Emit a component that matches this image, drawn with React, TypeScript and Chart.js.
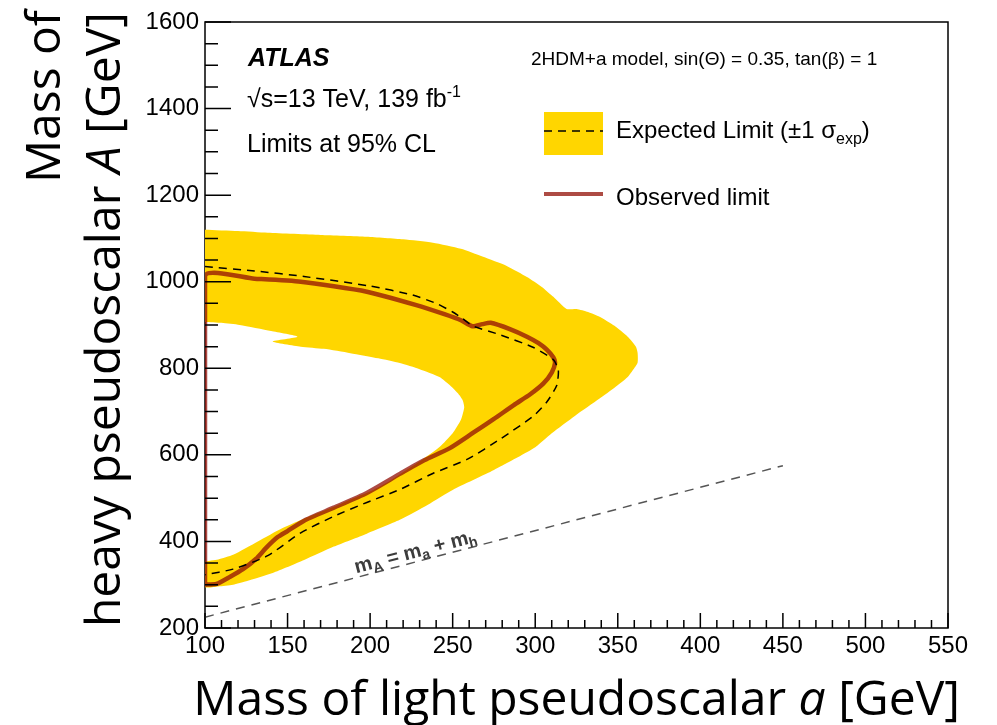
import React, { useEffect, useRef } from "react";
import { Chart, registerables } from "chart.js";

Chart.register(...registerables);

// Axis ranges (GeV) and labelled ticks
const maRange = [100, 550];
const mARange = [200, 1600];
const maTickLabels = [100, 150, 200, 250, 300, 350, 400, 450, 500, 550];
const mATickLabels = [200, 400, 600, 800, 1000, 1200, 1400, 1600];

// ±1σ expected band, outer edge: from the top-left corner clockwise to the bottom-left corner
const bandOuterMa = [100, 120, 138, 170, 198, 220, 238, 255, 268, 283, 295, 304, 311, 319, 325, 332, 339, 348, 356, 361, 362, 362, 359, 356, 348, 339, 324, 310, 299, 275, 250, 235, 218, 198, 178, 160, 141, 125, 117, 108, 100];
const bandOuterMA = [1120, 1117, 1113, 1108, 1104, 1098, 1090, 1076, 1058, 1036, 1011, 988, 965, 937, 937, 930, 919, 898, 873, 850, 836, 813, 795, 780, 755, 730, 690, 650, 615, 565, 519, 485, 450, 418, 388, 357, 327, 308, 300, 296, 295];
// inner edge of the band: from the bottom-left corner round the hole back to the left axis
const bandInnerMa = [100, 108, 117, 132, 147, 162, 178, 190, 202, 212, 222, 232, 242, 250, 255, 257, 256, 253, 248, 242, 230, 218, 205, 188, 172, 158, 141, 156, 140, 121, 110, 100];
const bandInnerMA = [351, 358, 369, 400, 431, 456, 480, 500, 519, 540, 565, 590, 618, 650, 681, 710, 727, 743, 762, 780, 798, 812, 823, 835, 845, 850, 862, 873, 886, 900, 905, 907];

// Expected limit contour
const expectedMa = [100, 130, 160, 200, 225, 240, 250, 256, 262, 279, 299, 311, 314, 313, 307, 299, 279, 259, 238, 218, 198, 178, 158, 138, 117, 100];
const expectedMA = [1035, 1025, 1012, 990, 970, 950, 930, 915, 898, 877, 848, 820, 796, 760, 722, 690, 637, 590, 557, 520, 490, 458, 420, 367, 336, 323];

// Observed limit contour (closed along the m_a = 100 GeV edge)
const observedMa = [100, 100, 130, 158, 198, 228, 245, 255, 262, 268, 273, 285, 295, 302, 307, 311, 312, 310, 305, 297, 287, 275, 262, 248, 233, 218, 198, 178, 160, 150, 144, 137, 131, 123, 115, 107, 100];
const observedMA = [300, 1013, 1007, 1000, 977, 946, 925, 911, 897, 902, 905, 890, 873, 858, 843, 825, 812, 790, 765, 740, 715, 683, 650, 615, 588, 556, 512, 478, 448, 424, 410, 385, 360, 336, 318, 302, 300];

// Kinematic threshold m_A = m_a + m_h
const kinematicMa = [100, 450];
const kinematicMA = [225, 575];

const FONT = '"Liberation Sans", Arial, Helvetica, sans-serif';
const TITLE_FONT = '"Open Sans", "Noto Sans", sans-serif';
const BAND_COLOR = "rgb(255,214,0)";
const OBS_COLOR = "rgba(145,15,5,0.75)";

const pts = (xs: number[], ys: number[]) => xs.map((x, i) => ({ x, y: ys[i] }));

type Part = { text: string; font: string; dy?: number };

function drawParts(ctx: CanvasRenderingContext2D, parts: Part[], x: number, y: number, align: "left" | "right" | "center") {
  let total = 0;
  for (const p of parts) {
    ctx.font = p.font;
    total += ctx.measureText(p.text).width;
  }
  let cx = align === "right" ? x - total : align === "center" ? x - total / 2 : x;
  ctx.textAlign = "left";
  for (const p of parts) {
    ctx.font = p.font;
    ctx.fillText(p.text, cx, y + (p.dy || 0));
    cx += ctx.measureText(p.text).width;
  }
}

const framePlugin = {
  id: "frame",
  beforeDatasetsDraw(chart: any) {
    const { ctx, chartArea: a } = chart;
    ctx.save();
    ctx.strokeStyle = "#000";
    ctx.lineWidth = 1.5;
    ctx.strokeRect(a.left, a.top, a.right - a.left, a.bottom - a.top);
    ctx.restore();
  },
  afterDatasetsDraw(chart: any) {
    const { ctx, chartArea: a } = chart;
    const xs = chart.scales.x;
    const ys = chart.scales.y;
    ctx.save();
    // inward tick marks
    ctx.strokeStyle = "#000";
    ctx.lineWidth = 1.5;
    ctx.beginPath();
    for (let v = maRange[0]; v <= maRange[1]; v += 10) {
      const px = xs.getPixelForValue(v);
      const len = v % 50 === 0 ? 15 : 8;
      ctx.moveTo(px, a.bottom);
      ctx.lineTo(px, a.bottom - len);
    }
    for (let v = mARange[0]; v <= mARange[1]; v += 50) {
      const py = ys.getPixelForValue(v);
      const len = v % 200 === 0 ? 26 : 13;
      ctx.moveTo(a.left, py);
      ctx.lineTo(a.left + len, py);
    }
    ctx.stroke();

    // label along the kinematic threshold line
    const x0 = xs.getPixelForValue(kinematicMa[0]);
    const y0 = ys.getPixelForValue(kinematicMA[0]);
    const x1 = xs.getPixelForValue(kinematicMa[1]);
    const y1 = ys.getPixelForValue(kinematicMA[1]);
    const ang = Math.atan2(y1 - y0, x1 - x0);
    const lx = xs.getPixelForValue(229);
    const ly = ys.getPixelForValue(354);
    ctx.translate(lx, ly);
    ctx.rotate(ang);
    ctx.fillStyle = "#3c3c3c";
    ctx.textBaseline = "alphabetic";
    const big = `bold 20px ${FONT}`;
    const small = `bold 14px ${FONT}`;
    drawParts(
      ctx,
      [
        { text: "m", font: big },
        { text: "A", font: small, dy: 4 },
        { text: " = m", font: big },
        { text: "a", font: small, dy: 4 },
        { text: " + m", font: big },
        { text: "h", font: small, dy: 4 },
      ],
      0,
      -4,
      "center"
    );
    ctx.restore();
  },
  afterDraw(chart: any) {
    const { ctx } = chart;
    ctx.save();
    ctx.fillStyle = "#000";
    ctx.textBaseline = "alphabetic";

    // experiment labels
    drawParts(ctx, [{ text: "ATLAS", font: `italic bold 25px ${FONT}` }], 248, 66, "left");
    drawParts(
      ctx,
      [
        { text: "\u221As=13 TeV, 139 fb", font: `25px ${FONT}` },
        { text: "-1", font: `16px ${FONT}`, dy: -10 },
      ],
      247,
      107,
      "left"
    );
    drawParts(ctx, [{ text: "Limits at 95% CL", font: `25px ${FONT}` }], 247, 152, "left");
    drawParts(ctx, [{ text: "2HDM+a model, sin(\u0398) = 0.35, tan(\u03B2) = 1", font: `19px ${FONT}` }], 531, 65, "left");

    // legend
    ctx.fillStyle = BAND_COLOR;
    ctx.fillRect(544, 112, 59, 43);
    ctx.strokeStyle = "#000";
    ctx.lineWidth = 1.5;
    ctx.setLineDash([8, 6]);
    ctx.beginPath();
    ctx.moveTo(544, 131);
    ctx.lineTo(603, 131);
    ctx.stroke();
    ctx.setLineDash([]);
    ctx.strokeStyle = OBS_COLOR;
    ctx.lineWidth = 4;
    ctx.beginPath();
    ctx.moveTo(544, 194);
    ctx.lineTo(603, 194);
    ctx.stroke();
    ctx.fillStyle = "#000";
    drawParts(
      ctx,
      [
        { text: "Expected Limit (\u00B11 \u03C3", font: `24px ${FONT}` },
        { text: "exp", font: `16px ${FONT}`, dy: 6 },
        { text: ")", font: `24px ${FONT}` },
      ],
      616,
      138,
      "left"
    );
    drawParts(ctx, [{ text: "Observed limit", font: `24px ${FONT}` }], 616, 205, "left");

    // axis titles
    const tf = `48px ${TITLE_FONT}`;
    const ti = `italic 48px ${TITLE_FONT}`;
    drawParts(
      ctx,
      [
        { text: "Mass of light pseudoscalar ", font: tf },
        { text: "a", font: ti },
        { text: " [GeV]", font: tf },
      ],
      960,
      715,
      "right"
    );
    ctx.save();
    ctx.translate(60, 10);
    ctx.rotate(-Math.PI / 2);
    drawParts(ctx, [{ text: "Mass of", font: tf }], 0, 0, "right");
    ctx.restore();
    ctx.save();
    ctx.translate(120, 12);
    ctx.rotate(-Math.PI / 2);
    drawParts(
      ctx,
      [
        { text: "heavy pseudoscalar ", font: tf },
        { text: "A", font: ti },
        { text: " [GeV]", font: tf },
      ],
      0,
      0,
      "right"
    );
    ctx.restore();
    ctx.restore();
  },
};

export default function App() {
  const canvasRef = useRef<HTMLCanvasElement | null>(null);

  useEffect(() => {
    const canvas = canvasRef.current;
    if (!canvas) return;
    const chart = new Chart(canvas, {
      type: "line",
      data: {
        datasets: [
          {
            label: "Expected Limit (±1 σexp) band",
            data: [...pts(bandOuterMa, bandOuterMA), ...pts(bandInnerMa, bandInnerMA)],
            backgroundColor: BAND_COLOR,
            borderColor: "rgba(0,0,0,0)",
            borderWidth: 0,
            fill: "shape",
            pointRadius: 0,
            tension: 0.2,
            order: 4,
          },
          {
            label: "mA = ma + mh",
            data: pts(kinematicMa, kinematicMA),
            borderColor: "#555555",
            borderWidth: 1.5,
            borderDash: [9, 7],
            fill: false,
            pointRadius: 0,
            order: 3,
          },
          {
            label: "Observed limit",
            data: pts(observedMa, observedMA),
            borderColor: OBS_COLOR,
            borderWidth: 4.5,
            fill: false,
            pointRadius: 0,
            tension: 0.2,
            order: 2,
          },
          {
            label: "Expected Limit",
            data: pts(expectedMa, expectedMA),
            borderColor: "#000000",
            borderWidth: 1.5,
            borderDash: [8, 6],
            fill: false,
            pointRadius: 0,
            tension: 0.2,
            order: 1,
          },
        ],
      },
      options: {
        animation: false,
        responsive: false,
        devicePixelRatio: 1,
        layout: { padding: { top: 22, right: 49, left: 0, bottom: 0 } },
        plugins: { legend: { display: false }, tooltip: { enabled: false } },
        events: [],
        scales: {
          x: {
            type: "linear",
            min: maRange[0],
            max: maRange[1],
            afterBuildTicks: (s: any) => {
              s.ticks = maTickLabels.map((v) => ({ value: v }));
            },
            afterFit: (s: any) => {
              s.height = 97;
            },
            grid: { display: false, drawTicks: false },
            border: { display: false },
            ticks: {
              color: "#000",
              font: { family: FONT, size: 24 },
              padding: 4,
              maxRotation: 0,
              autoSkip: false,
              callback: (v: any) => String(v),
            },
          },
          y: {
            type: "linear",
            min: mARange[0],
            max: mARange[1],
            afterBuildTicks: (s: any) => {
              s.ticks = mATickLabels.map((v) => ({ value: v }));
            },
            afterFit: (s: any) => {
              s.width = 205;
            },
            grid: { display: false, drawTicks: false },
            border: { display: false },
            ticks: {
              color: "#000",
              font: { family: FONT, size: 24 },
              padding: 6,
              autoSkip: false,
              callback: (v: any) => String(v),
            },
          },
        },
      },
      plugins: [framePlugin],
    } as any);
    return () => chart.destroy();
  }, []);

  return (
    <div style={{ position: "absolute", left: 0, top: 0, width: 997, height: 725, background: "#fff" }}>
      <canvas ref={canvasRef} width={997} height={725} style={{ display: "block" }} />
    </div>
  );
}
